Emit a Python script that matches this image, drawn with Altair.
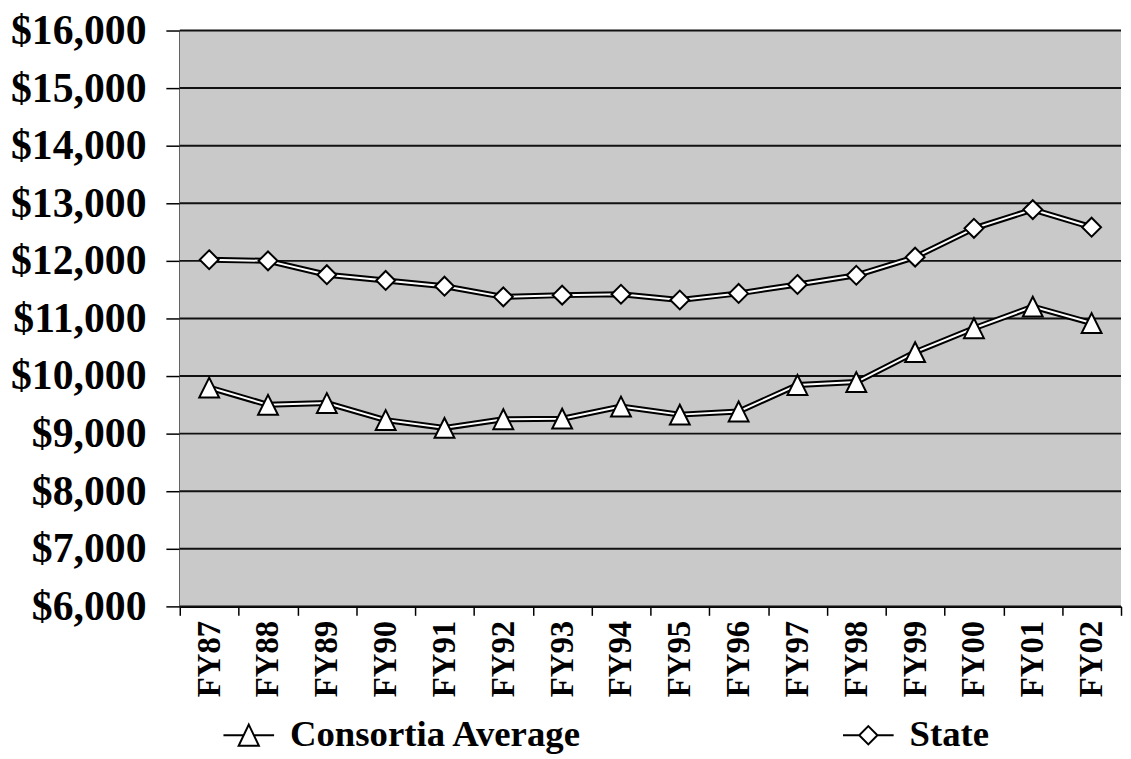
import altair as alt
import pandas as pd

years = ["FY87", "FY88", "FY89", "FY90", "FY91", "FY92", "FY93", "FY94",
         "FY95", "FY96", "FY97", "FY98", "FY99", "FY00", "FY01", "FY02"]
consortia = [9800, 9500, 9530, 9235, 9100, 9250, 9260, 9470,
             9330, 9385, 9845, 9895, 10415, 10830, 11205, 10920]
state = [12020, 12000, 11760, 11660, 11560, 11375, 11405, 11420,
         11320, 11435, 11590, 11750, 12065, 12565, 12890, 12585]
series_names = ["Consortia Average", "State"]
y_ticks = [6000, 7000, 8000, 9000, 10000, 11000, 12000, 13000, 14000, 15000, 16000]

df = pd.DataFrame({
    "Year": years + years,
    "Series": [series_names[0]] * len(years) + [series_names[1]] * len(years),
    "Value": consortia + state,
})
grid_df = pd.DataFrame({"Value": y_ticks})

FONT = "Liberation Serif"
W, H = 948, 580

tri = "M0,-1L1,1L-1,1Z"
dia = "M0,-0.95L0.95,0L0,0.95L-0.95,0Z"
leg_tri = "M-1,0H-0.2M0.2,0H1M0,-0.42L0.4,0.42L-0.4,0.42Z"
leg_dia = "M-1,0H-0.36M0.36,0H1M0,-0.36L0.36,0L0,0.36L-0.36,0Z"

x = alt.X(
    "Year:N", sort=years,
    scale=alt.Scale(type="band", paddingInner=0, paddingOuter=0),
    axis=alt.Axis(
        title=None, labelAngle=-90, tickBand="extent", grid=False,
        labelFont=FONT, labelFontSize=33, labelFontWeight="bold", labelColor="black",
        tickColor="black", tickSize=9, tickWidth=1.5,
        domainColor="black", domainWidth=2, labelPadding=5,
    ),
)
y_scale = alt.Scale(domain=[6000, 16000], nice=False, zero=False)
y_axis = alt.Axis(
    title=None, values=y_ticks, format="$,.0f",
    labelFont=FONT, labelFontSize=42, labelFontWeight="bold", labelColor="black",
    tickColor="black", tickSize=14, tickWidth=1.5, labelPadding=20,
    domainColor="black", domainWidth=2, grid=False,
)
y = alt.Y("Value:Q", scale=y_scale, axis=y_axis)

background = alt.Chart(pd.DataFrame({"k": [0]})).mark_rect(color="#c9c9c9").encode(
    x=alt.value(0), x2=alt.value(W), y=alt.value(0), y2=alt.value(H)
)

grid = alt.Chart(grid_df).mark_rule(color="#111111", strokeWidth=2).encode(y=y)

base = alt.Chart(df)
line_outer = base.mark_line(color="black", strokeWidth=6).encode(x=x, y=y, detail="Series:N")
line_inner = base.mark_line(color="white", strokeWidth=2).encode(x=x, y=y, detail="Series:N")

points = base.mark_point(
    filled=True, fill="white", stroke="black", strokeWidth=2, opacity=1, size=400
).encode(
    x=x, y=y,
    shape=alt.Shape("Series:N", scale=alt.Scale(domain=series_names, range=[tri, dia]), legend=None),
)

legend_layer = base.mark_point(
    filled=False, stroke="black", strokeWidth=2, opacity=1, size=2601
).encode(
    shape=alt.Shape(
        "Series:N",
        scale=alt.Scale(domain=series_names, range=[leg_tri, leg_dia]),
        legend=alt.Legend(
            title=None, orient="none", legendX=43, legendY=683, direction="horizontal",
            labelFont=FONT, labelFontSize=37, labelFontWeight="bold", labelColor="black",
            symbolSize=2601, symbolStrokeWidth=2, symbolStrokeColor="black",
            symbolOpacity=1, labelOffset=15, columnPadding=258, labelLimit=600,
        ),
    ),
).transform_filter("datum.Value < 0")

chart = alt.layer(background, grid, line_outer, line_inner, points, legend_layer).resolve_scale(
    shape="independent"
).properties(
    width=W, height=H,
    padding={"left": 173, "top": 20, "right": 2, "bottom": 148},
    autosize=alt.AutoSizeParams(type="none"),
).configure_view(
    strokeWidth=0
)

chart.save("out.html", embed_options={"renderer": "svg", "actions": False})
